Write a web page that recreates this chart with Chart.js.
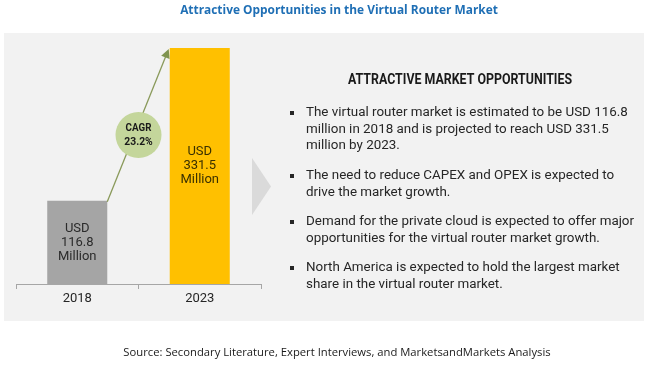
<!DOCTYPE html>
<html>
<head>
<meta charset="utf-8">
<script src="https://cdn.jsdelivr.net/npm/chart.js@4.4.0/dist/chart.umd.min.js"></script>
<style>
html,body{margin:0;padding:0;background:#fff;}
#wrap{position:relative;width:650px;height:378px;}
canvas{display:block;}
</style>
</head>
<body>
<div id="wrap"><canvas id="c" width="650" height="378"></canvas></div>
<script>
const categories = ["2018", "2023"];
const values = [116.8, 331.5];
const barLabels = [["USD", "116.8", "Million"], ["USD", "331.5", "Million"]];
const cagrLabel = ["CAGR", "23.2%"];
const chartTitle = "Attractive Opportunities in the Virtual Router Market";
const panelHeading = "ATTRACTIVE MARKET OPPORTUNITIES";
const bullets = [
  ["The virtual router market is estimated to be USD 116.8", "million in 2018 and is projected to reach USD 331.5", "million by 2023."],
  ["The need to reduce CAPEX and OPEX is expected to", "drive the market growth."],
  ["Demand for the private cloud is expected to offer major", "opportunities for the virtual router market growth."],
  ["North America is expected to hold the largest market", "share in the virtual router market."]
];
const sourceText = "Source: Secondary Literature, Expert Interviews, and MarketsandMarkets Analysis";

function condensedText(ctx, text, x, y, sx) {
  ctx.save();
  ctx.translate(x, y);
  ctx.scale(sx, 1);
  ctx.fillText(text, 0, 0);
  ctx.restore();
}

const decor = {
  id: 'decor',
  beforeDraw(chart) {
    const ctx = chart.ctx;
    ctx.save();
    ctx.fillStyle = '#ffffff';
    ctx.fillRect(0, 0, 650, 378);
    ctx.fillStyle = '#f2f2f2';
    ctx.fillRect(4, 33, 640, 288);
    // title
    ctx.fillStyle = '#1f6fb5';
    ctx.font = 'bold 11.9px "Open Sans"';
    ctx.textAlign = 'center';
    ctx.textBaseline = 'middle';
    ctx.fillText(chartTitle, 339, 11);
    // source
    ctx.fillStyle = '#1a1a1a';
    ctx.font = '11.25px "Open Sans"';
    ctx.fillText(sourceText, 337, 353);
    // chevron
    ctx.fillStyle = '#dadada';
    ctx.beginPath();
    ctx.moveTo(252, 158);
    ctx.lineTo(271, 186.5);
    ctx.lineTo(252, 215);
    ctx.closePath();
    ctx.fill();
    // heading
    ctx.fillStyle = '#1a1a1a';
    ctx.font = 'bold 14px "Roboto"';
    condensedText(ctx, panelHeading, 460, 80, 0.885);
    // bullets
    ctx.textAlign = 'left';
    ctx.font = '13.4px "Roboto"';
    ctx.fillStyle = '#262626';
    const starts = [113, 176, 222, 268];
    bullets.forEach((lines, i) => {
      ctx.fillRect(290, starts[i] - 2, 4, 4);
      lines.forEach((ln, j) => ctx.fillText(ln, 306, starts[i] + j * 16.5));
    });
    ctx.restore();
  },
  afterDatasetsDraw(chart) {
    const ctx = chart.ctx;
    const meta = chart.getDatasetMeta(0);
    const b0 = meta.data[0], b1 = meta.data[1];
    ctx.save();
    // bar labels
    ctx.textAlign = 'center';
    ctx.textBaseline = 'middle';
    ctx.font = '13px "Roboto"';
    meta.data.forEach((bar, i) => {
      const mid = (bar.y + bar.base) / 2;
      ctx.fillStyle = i === 0 ? '#2b2b2b' : '#3a3000';
      barLabels[i].forEach((t, j) => ctx.fillText(t, bar.x, mid + (j - 1) * 14));
    });
    // arrow
    const x0 = b0.x + b0.width / 2, y0 = b0.y + 1;
    const x1 = b1.x - b1.width / 2 - 1, y1 = b1.y + 1;
    ctx.strokeStyle = '#8a9a5b';
    ctx.lineWidth = 1.3;
    const ang = Math.atan2(y1 - y0, x1 - x0);
    ctx.beginPath();
    ctx.moveTo(x0, y0);
    ctx.lineTo(x1 - 6 * Math.cos(ang), y1 - 6 * Math.sin(ang));
    ctx.stroke();
    ctx.fillStyle = '#7f9450';
    ctx.beginPath();
    ctx.moveTo(x1, y1);
    ctx.lineTo(x1 - 9 * Math.cos(ang) + 4.5 * Math.sin(ang), y1 - 9 * Math.sin(ang) - 4.5 * Math.cos(ang));
    ctx.lineTo(x1 - 9 * Math.cos(ang) - 4.5 * Math.sin(ang), y1 - 9 * Math.sin(ang) + 4.5 * Math.cos(ang));
    ctx.closePath();
    ctx.fill();
    // circle
    const cx = (x0 + x1) / 2 + 0.5, cy = 135;
    ctx.fillStyle = '#c4d69b';
    ctx.beginPath();
    ctx.arc(cx, cy, 23, 0, Math.PI * 2);
    ctx.fill();
    ctx.fillStyle = '#1a1a1a';
    ctx.font = 'bold 11.5px "Roboto"';
    condensedText(ctx, cagrLabel[0], cx, cy - 7, 0.85);
    condensedText(ctx, cagrLabel[1], cx, cy + 7, 0.9);
    ctx.restore();
  }
};

new Chart(document.getElementById('c'), {
  type: 'bar',
  data: {
    labels: categories,
    datasets: [{
      data: values,
      backgroundColor: ['#a5a5a5', '#ffc000'],
      barPercentage: 0.49,
      categoryPercentage: 1.0,
      borderWidth: 0
    }]
  },
  options: {
    responsive: false,
    animation: false,
    devicePixelRatio: 1,
    layout: { padding: { left: 16, right: 389, top: 48, bottom: 64 } },
    plugins: { legend: { display: false }, tooltip: { enabled: false }, title: { display: false } },
    scales: {
      x: {
        afterFit(scale) { scale.height = 30; },
        border: { display: true, color: '#a6a6a6', width: 1 },
        grid: { drawOnChartArea: false, drawTicks: true, tickLength: 5, color: '#a6a6a6', offset: true },
        ticks: { color: '#262626', font: { family: 'Roboto', size: 13 }, padding: 2 }
      },
      y: { display: false, min: 0, max: 331.5 }
    }
  },
  plugins: [decor]
});
</script>
</body>
</html>
